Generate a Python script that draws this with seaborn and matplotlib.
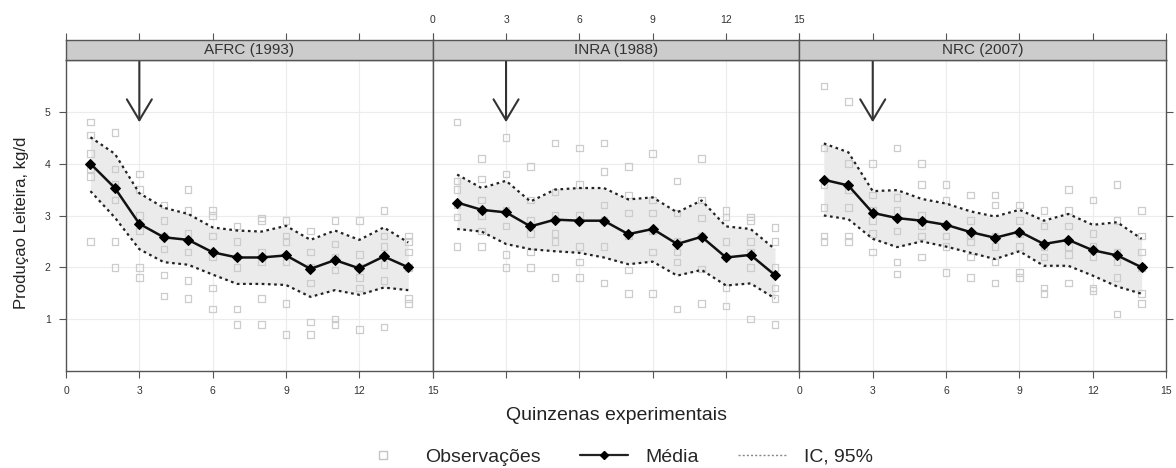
import numpy as np
import pandas as pd
import matplotlib
matplotlib.use("Agg")
import matplotlib.pyplot as plt
import seaborn as sns
from matplotlib.lines import Line2D

sns.set_theme(style="white")
plt.rcParams['font.family'] = ['Liberation Sans', 'DejaVu Sans']

panels = ["AFRC (1993)", "INRA (1988)", "NRC (2007)"]
quinzenas = list(range(1, 15))

mean_afrc = [4.0, 3.53, 2.84, 2.58, 2.53, 2.29, 2.19, 2.19, 2.23, 1.97, 2.14, 1.98, 2.21, 2.0]
upper_afrc = [4.51, 4.19, 3.43, 3.15, 3.03, 2.77, 2.71, 2.69, 2.8, 2.53, 2.71, 2.53, 2.77, 2.48]
lower_afrc = [3.47, 2.96, 2.35, 2.1, 2.05, 1.86, 1.68, 1.68, 1.66, 1.43, 1.56, 1.47, 1.61, 1.56]

mean_inra = [3.25, 3.11, 3.06, 2.79, 2.92, 2.9, 2.9, 2.64, 2.74, 2.45, 2.59, 2.19, 2.24, 1.85]
upper_inra = [3.79, 3.53, 3.67, 3.27, 3.5, 3.53, 3.53, 3.31, 3.35, 3.06, 3.29, 2.79, 2.74, 2.35]
lower_inra = [2.74, 2.69, 2.45, 2.35, 2.31, 2.28, 2.19, 2.06, 2.11, 1.84, 1.95, 1.65, 1.69, 1.4]

mean_nrc = [3.69, 3.58, 3.05, 2.95, 2.9, 2.82, 2.68, 2.57, 2.69, 2.45, 2.53, 2.33, 2.23, 2.0]
upper_nrc = [4.39, 4.22, 3.47, 3.49, 3.32, 3.23, 3.08, 2.98, 3.11, 2.9, 3.03, 2.82, 2.87, 2.55]
lower_nrc = [3.0, 2.93, 2.55, 2.39, 2.5, 2.4, 2.28, 2.16, 2.31, 2.03, 2.03, 1.84, 1.63, 1.49]

obs_afrc = [
    [4.8, 4.55, 4.2, 3.9, 3.75, 2.5], [4.6, 3.9, 3.6, 3.3, 2.5, 2.0],
    [3.8, 3.5, 3.0, 2.7, 2.0, 1.8], [3.2, 2.9, 2.6, 2.35, 1.85, 1.45],
    [3.5, 3.1, 2.65, 2.3, 1.75, 1.4], [3.1, 3.0, 2.6, 2.2, 1.6, 1.2],
    [2.8, 2.5, 2.2, 2.0, 1.2, 0.9], [2.95, 2.9, 2.3, 2.1, 1.4, 0.9],
    [2.9, 2.6, 2.5, 2.1, 1.3, 0.7], [2.7, 2.3, 2.0, 1.7, 0.95, 0.7],
    [2.9, 2.45, 2.2, 1.95, 1.0, 0.9], [2.9, 2.25, 2.0, 1.8, 1.6, 0.8],
    [3.1, 2.6, 2.4, 2.05, 1.75, 0.85], [2.6, 2.5, 2.3, 2.0, 1.4, 1.3],
]
obs_inra = [
    [4.8, 3.67, 3.5, 3.2, 2.97, 2.4], [4.1, 3.7, 3.3, 3.0, 2.7, 2.4],
    [4.5, 3.8, 3.1, 2.8, 2.25, 2.0], [3.95, 3.3, 2.9, 2.65, 2.3, 2.0],
    [4.4, 3.45, 3.0, 2.65, 2.5, 1.8], [4.3, 3.6, 3.0, 2.4, 2.1, 1.8],
    [4.4, 3.85, 3.2, 2.9, 2.4, 1.7], [3.95, 3.4, 3.05, 2.6, 1.95, 1.5],
    [4.2, 3.3, 3.05, 2.7, 2.3, 1.5], [3.67, 3.05, 2.5, 2.3, 2.1, 1.2],
    [4.1, 3.3, 2.95, 2.6, 1.97, 1.3], [3.1, 2.97, 2.5, 2.2, 1.6, 1.25],
    [2.97, 2.9, 2.5, 2.3, 2.0, 1.0], [2.77, 2.5, 2.0, 1.6, 1.4, 0.9],
]
obs_nrc = [
    [5.5, 4.3, 3.6, 3.15, 2.6, 2.5], [5.2, 4.0, 3.5, 3.15, 2.6, 2.5],
    [4.0, 3.4, 3.1, 2.9, 2.65, 2.3], [4.3, 3.35, 3.1, 2.7, 2.1, 1.87],
    [4.0, 3.6, 3.0, 2.8, 2.6, 2.2], [3.6, 3.3, 2.8, 2.6, 2.4, 1.9],
    [3.4, 2.9, 2.6, 2.5, 2.2, 1.8], [3.4, 3.2, 2.6, 2.4, 2.1, 1.7],
    [3.2, 2.9, 2.65, 2.4, 1.9, 1.8], [3.1, 2.8, 2.4, 2.2, 1.6, 1.5],
    [3.5, 3.1, 2.8, 2.4, 2.25, 1.7], [3.3, 2.65, 2.4, 2.2, 1.6, 1.55],
    [3.6, 2.9, 2.3, 2.1, 1.8, 1.1], [3.1, 2.6, 2.3, 2.0, 1.5, 1.3],
]

x_ticks = [0, 3, 6, 9, 12, 15]
y_ticks = [1, 2, 3, 4, 5]
arrow_x = 3
arrow_tip_y = 4.8

summaries = [
    (mean_afrc, upper_afrc, lower_afrc, obs_afrc),
    (mean_inra, upper_inra, lower_inra, obs_inra),
    (mean_nrc, upper_nrc, lower_nrc, obs_nrc),
]

W, H = 1176, 468
fig = plt.figure(figsize=(W / 100, H / 100), dpi=100)

left_px, panel_w_px = 66, 366.7
bottom_px, top_px, strip_top_px = 371, 60, 40

frame_col = "#555555"
grid_col = "#ececec"

for i, (name, (m, up, lo, obs)) in enumerate(zip(panels, summaries)):
    x0 = (left_px + i * panel_w_px) / W
    ax = fig.add_axes([x0, 1 - bottom_px / H, panel_w_px / W, (bottom_px - top_px) / H])
    sax = fig.add_axes([x0, 1 - top_px / H, panel_w_px / W, (top_px - strip_top_px) / H], sharex=ax)

    obs_df = pd.DataFrame({
        "q": np.repeat(quinzenas, [len(o) for o in obs]),
        "y": np.concatenate([np.array(o) for o in obs]),
    })
    sum_df = pd.DataFrame({"q": quinzenas, "m": m, "up": up, "lo": lo})

    ax.grid(True, color=grid_col, lw=0.8)
    ax.set_axisbelow(True)
    ax.fill_between(sum_df["q"], sum_df["lo"], sum_df["up"], color="#ebebeb", lw=0, zorder=1)
    sns.scatterplot(data=obs_df, x="q", y="y", ax=ax, marker="s", s=22,
                    facecolors="none", edgecolor="#cccccc", linewidth=0.9, zorder=2)
    sns.lineplot(data=sum_df, x="q", y="up", ax=ax, color="#222222", lw=1.6,
                 linestyle=(0, (1.2, 1.6)), zorder=3)
    sns.lineplot(data=sum_df, x="q", y="lo", ax=ax, color="#222222", lw=1.6,
                 linestyle=(0, (1.2, 1.6)), zorder=3)
    sns.lineplot(data=sum_df, x="q", y="m", ax=ax, color="#111111", lw=1.8,
                 marker="D", markersize=5.5, markeredgecolor="#000000",
                 markerfacecolor="#000000", zorder=4)

    ax.annotate("", xy=(arrow_x, arrow_tip_y), xytext=(arrow_x, 6.0),
                arrowprops=dict(arrowstyle="->,head_length=1.0,head_width=0.6",
                                color="#333333", lw=1.5, mutation_scale=15,
                                shrinkA=0, shrinkB=0), zorder=5)

    ax.set_xlim(0, 15)
    ax.set_ylim(0, 6)
    ax.set_xticks(x_ticks)
    ax.set_yticks(y_ticks)
    ax.set_xlabel("")
    ax.set_ylabel("")
    for sp in ax.spines.values():
        sp.set_color(frame_col)
        sp.set_linewidth(1.0)

    ax.tick_params(axis="both", which="both", direction="out", length=5, width=0.8,
                   color=frame_col, labelsize=7.5, labelcolor="#333333", pad=6)
    ax.tick_params(axis="x", top=False, bottom=True, labelbottom=(i != 1))
    if i == 0:
        ax.tick_params(axis="y", left=True, right=False, labelleft=True)
    elif i == 2:
        ax.tick_params(axis="y", left=False, right=True, labelleft=False, labelright=False)
    else:
        ax.tick_params(axis="y", left=False, right=False, labelleft=False)

    # strip
    sax.set_facecolor("#cccccc")
    sax.set_ylim(0, 1)
    sax.set_yticks([])
    sax.text(0.5, 0.5, name, transform=sax.transAxes, ha="center", va="center",
             fontsize=11, color="#333333")
    for sp in sax.spines.values():
        sp.set_color(frame_col)
        sp.set_linewidth(1.0)
    sax.tick_params(axis="x", direction="out", length=5, width=0.8, color=frame_col,
                    bottom=False, labelbottom=False, top=True, labeltop=(i == 1),
                    labelsize=7.5, labelcolor="#333333", pad=6)

fig.text(0.524, 1 - 415 / H, "Quinzenas experimentais", ha="center", va="center",
         fontsize=14, color="#222222")
fig.text(22 / W, 1 - 223 / H, "Produçao Leiteira, kg/d", ha="center", va="center",
         rotation=90, fontsize=12, color="#222222")

handles = [
    Line2D([], [], marker="s", linestyle="none", markerfacecolor="none",
           markeredgecolor="#c4c4c4", markersize=6),
    Line2D([], [], color="#222222", lw=1.6, marker="D", markersize=4,
           markerfacecolor="#000000", markeredgecolor="#000000"),
    Line2D([], [], color="#888888", lw=1.0, linestyle=(0, (1.5, 1.5))),
]
labels = ["Observações", "Média", "IC, 95%"]
fig.legend(handles, labels, loc="center", bbox_to_anchor=(0.524, 1 - 457 / H),
           ncol=3, frameon=False, fontsize=14, handlelength=2.5, columnspacing=2.0,
           handletextpad=0.9)

fig.savefig("out.png", dpi=100)
